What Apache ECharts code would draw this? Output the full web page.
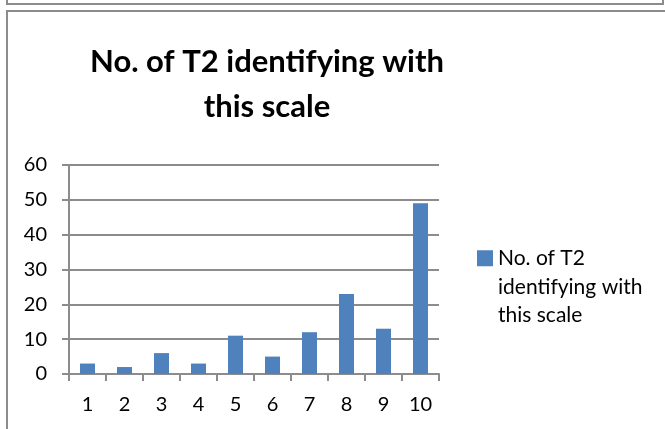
<!DOCTYPE html>
<html>
<head>
<meta charset="utf-8">
<script src="https://cdn.jsdelivr.net/npm/echarts@6/dist/echarts.min.js"></script>
<style>html,body{margin:0;padding:0;background:#fff}#c{width:665px;height:429px}</style>
</head>
<body>
<div id="c"></div>
<script>
const categories = ['1','2','3','4','5','6','7','8','9','10'];
const seriesName = 'No. of T2\nidentifying with\nthis scale';
const values = [3, 2, 6, 3, 11, 5, 12, 23, 13, 49];
const titleText = 'No. of T2 identifying with\nthis scale';

const chart = echarts.init(document.getElementById('c'), null, {renderer: 'canvas'});
const FONT = 'Lato';
chart.setOption({
  animation: false,
  backgroundColor: '#fff',
  graphic: [
    {type: 'polyline', shape: {points: [[7, 0], [7, 4], [663, 4], [663, 0]]}, style: {stroke: '#8c8c8c', lineWidth: 2, fill: null}},
    {type: 'polyline', shape: {points: [[7, 429], [7, 11], [665, 11]]}, style: {stroke: '#8c8c8c', lineWidth: 2, fill: null}}
  ],
  title: {
    text: titleText,
    left: 262,
    top: 34,
    textAlign: 'center',
    textStyle: {fontFamily: FONT, fontWeight: 'bold', fontSize: 31, lineHeight: 45, color: '#000'}
  },
  legend: {
    left: 477,
    top: 187,
    padding: 0,
    itemWidth: 16,
    itemHeight: 16,
    itemGap: 0,
    icon: 'rect',
    formatter: function (name) { return '\n\n' + name; },
    textStyle: {fontFamily: FONT, fontSize: 21, lineHeight: 28.5, color: '#000'}
  },
  grid: {left: 69, right: 226, top: 165, bottom: 55, containLabel: false},
  xAxis: {
    type: 'category',
    data: categories,
    axisLine: {lineStyle: {color: '#8c8c8c', width: 2}},
    axisTick: {show: true, length: 7, lineStyle: {color: '#8c8c8c', width: 2}},
    axisLabel: {fontFamily: FONT, fontSize: 20, color: '#000', margin: 21}
  },
  yAxis: {
    type: 'value',
    min: 0, max: 60, interval: 10,
    axisLine: {show: true, lineStyle: {color: '#8c8c8c', width: 2}},
    axisTick: {show: true, length: 7, lineStyle: {color: '#8c8c8c', width: 2}},
    splitLine: {lineStyle: {color: '#8c8c8c', width: 2}},
    axisLabel: {fontFamily: FONT, fontSize: 20, color: '#000', margin: 22}
  },
  series: [{
    name: seriesName,
    type: 'bar',
    data: values,
    barWidth: 15,
    itemStyle: {color: '#4F81BD'}
  }]
});
</script>
</body>
</html>
